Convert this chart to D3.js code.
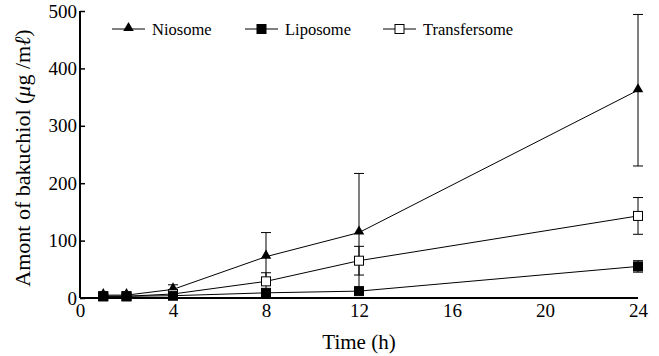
<!DOCTYPE html>
<html>
<head>
<meta charset="utf-8">
<script src="https://cdn.jsdelivr.net/npm/d3@7"></script>
</head>
<body style="margin:0;background:#fff">
<svg id="chart" width="659" height="356"></svg>
<script>
// sampling times (h)
const times = [1, 2, 4, 8, 12, 24];

// mean amounts (ug/ml) and SD
const niosome = [5, 5, 15, 72, 114, 362];
const niosomeErr = [2, 2, 8, 42, 103, 132];
const liposome = [3, 3, 4, 9, 12, 55];
const liposomeErr = [1, 1, 1, 2, 2, 10];
const transfersome = [3, 3, 7, 29, 65, 143];
const transfersomeErr = [1, 1, 2, 15, 25, 32];

const xTicks = [0, 4, 8, 12, 16, 20, 24];
const yTicks = [0, 100, 200, 300, 400, 500];

const series = [
  { name: 'Niosome', values: niosome, err: niosomeErr, marker: 'triangle' },
  { name: 'Transfersome', values: transfersome, err: transfersomeErr, marker: 'open' },
  { name: 'Liposome', values: liposome, err: liposomeErr, marker: 'square' }
];
const legendOrder = ['Niosome', 'Liposome', 'Transfersome'];

const FONT = '"Liberation Serif"';
const margin = { top: 11, right: 21, bottom: 58, left: 80 };
const W = 659, H = 356;
const width = W - margin.left - margin.right;
const height = H - margin.top - margin.bottom;

const svg = d3.select('#chart');
const g = svg.append('g').attr('transform', `translate(${margin.left},${margin.top})`);

const x = d3.scaleLinear().domain([0, 24]).range([0, width]);
const y = d3.scaleLinear().domain([0, 500]).range([height, 0]);

function drawMarker(sel, type, cx, cy) {
  if (type === 'triangle') {
    sel.append('path')
      .attr('d', d3.symbol().type(d3.symbolTriangle).size(48)())
      .attr('transform', `translate(${cx},${cy - 1})`)
      .attr('fill', '#000');
  } else {
    sel.append('rect')
      .attr('x', cx - 4.5).attr('y', cy - 4.5)
      .attr('width', 9).attr('height', 9)
      .attr('fill', type === 'square' ? '#000' : '#fff')
      .attr('stroke', '#000').attr('stroke-width', 1);
  }
}

// axes (y ticks point inward)
const yAxis = g.append('g')
  .call(d3.axisLeft(y).tickValues(yTicks).tickSize(-5).tickPadding(3));
yAxis.attr('font-family', null).attr('font-size', null);
yAxis.select('.domain').attr('stroke-width', 2).attr('d', `M0,${height}V0`);
yAxis.selectAll('.tick line').attr('stroke-width', 1.5);
yAxis.selectAll('text').style('font-family', FONT).style('font-size', '19px').attr('fill', '#000');

const xAxis = g.append('g')
  .attr('transform', `translate(0,${height})`)
  .call(d3.axisBottom(x).tickValues(xTicks).tickSize(0).tickPadding(6));
xAxis.attr('font-family', null).attr('font-size', null);
xAxis.select('.domain').attr('stroke-width', 2).attr('d', `M0,0H${width}`);
xAxis.selectAll('text').style('font-family', FONT).style('font-size', '19px').attr('fill', '#000');

const line = d3.line().x(d => x(d[0])).y(d => y(d[1]));

series.forEach(s => {
  const pts = times.map((t, i) => [t, s.values[i], s.err[i]]);
  const sg = g.append('g');
  // error bars
  pts.forEach(p => {
    const cx = x(p[0]);
    const top = y(p[1] + p[2]);
    const bot = y(Math.max(0, p[1] - p[2]));
    sg.append('line').attr('x1', cx).attr('x2', cx).attr('y1', top).attr('y2', bot)
      .attr('stroke', '#000').attr('stroke-width', 1);
    [top, bot].forEach(yy => {
      sg.append('line').attr('x1', cx - 5).attr('x2', cx + 5).attr('y1', yy).attr('y2', yy)
        .attr('stroke', '#000').attr('stroke-width', 1);
    });
  });
  sg.append('path').datum(pts).attr('d', line)
    .attr('fill', 'none').attr('stroke', '#000').attr('stroke-width', 1);
  pts.forEach(p => drawMarker(sg, s.marker, x(p[0]), y(p[1])));
});

// legend
const legendX = [112, 245, 383];
const legendY = 29;
legendOrder.forEach((name, i) => {
  const s = series.find(d => d.name === name);
  const lg = svg.append('g');
  lg.append('line').attr('x1', legendX[i]).attr('x2', legendX[i] + 33)
    .attr('y1', legendY).attr('y2', legendY).attr('stroke', '#000').attr('stroke-width', 1);
  drawMarker(lg, s.marker, legendX[i] + 16.5, legendY);
  lg.append('text').attr('x', legendX[i] + 40).attr('y', legendY + 6)
    .style('font-family', FONT).style('font-size', '16.5px').text(name);
});

// axis titles
svg.append('text')
  .attr('x', margin.left + x(12)).attr('y', 349)
  .attr('text-anchor', 'middle')
  .style('font-family', FONT).style('font-size', '21px')
  .text('Time (h)');

const yt = svg.append('text')
  .attr('transform', 'translate(30,158) rotate(-90)')
  .attr('text-anchor', 'middle')
  .style('font-family', FONT).style('font-size', '22px');
yt.append('tspan').text('Amont of bakuchiol (');
yt.append('tspan').style('font-style', 'italic').text('μ');
yt.append('tspan').text('g /m');
yt.append('tspan').style('font-style', 'italic').text('ℓ');
yt.append('tspan').text(')');
</script>
</body>
</html>
